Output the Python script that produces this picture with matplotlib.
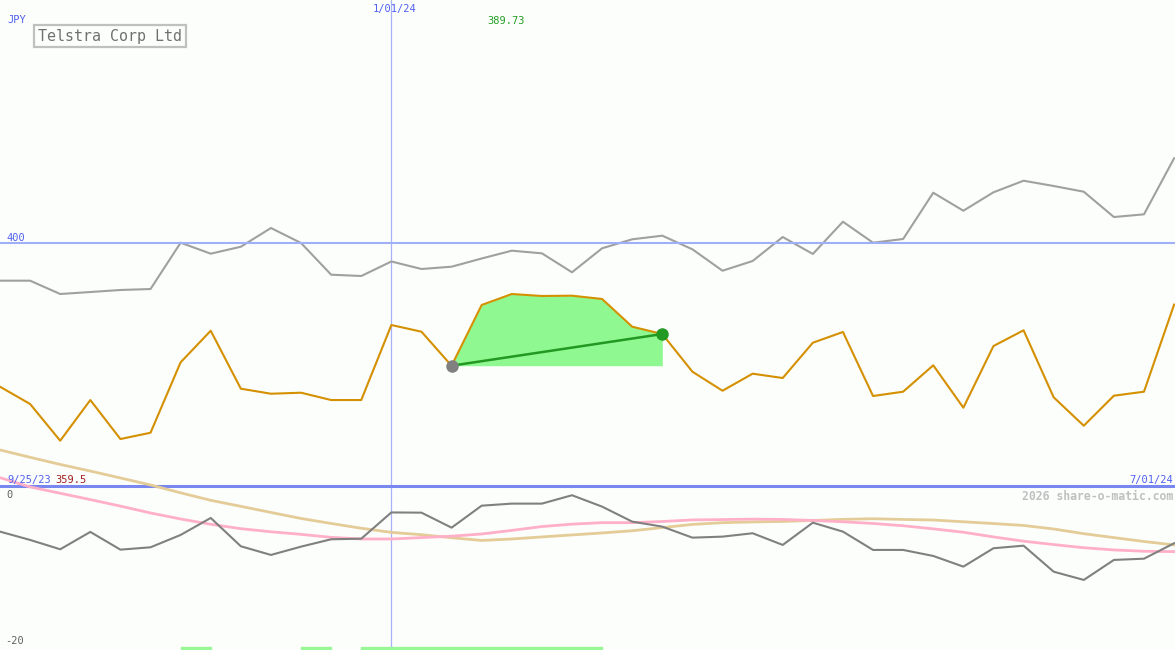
import numpy as np
import matplotlib
matplotlib.use("Agg")
import matplotlib.pyplot as plt

# weekly points, 9/25/23 .. 7/01/24
weeks = np.arange(40)
jan_week = 13  # 1/01/24

# price (JPY), orange line
price = [376.05, 373.17, 367.05, 373.83, 367.33, 368.38, 380.12, 385.38, 375.72, 374.88,
         375.05, 373.83, 373.83, 386.33, 385.22, 379.55, 389.67, 391.50, 391.17, 391.22,
         390.67, 386.05, 384.83, 378.55, 375.38, 378.22, 377.50, 383.38, 385.17, 374.50,
         375.22, 379.62, 372.55, 382.83, 385.45, 374.28, 369.55, 374.55, 375.22, 389.73]

# comparison line, gray
compare = [393.72, 393.72, 391.50, 391.83, 392.17, 392.33, 400.05, 398.22, 399.38, 402.50,
           400.00, 394.72, 394.50, 396.92, 395.67, 396.05, 397.42, 398.72, 398.28, 395.12,
           399.12, 400.62, 401.22, 398.95, 395.38, 397.00, 401.00, 398.17, 403.55, 400.05,
           400.67, 408.38, 405.38, 408.45, 410.38, 409.50, 408.55, 404.33, 404.78, 414.12]

# lower panel oscillator
osc = [-4.31, -5.44, -6.71, -4.35, -6.76, -6.44, -4.76, -2.45, -6.30, -7.48,
       -6.35, -5.35, -5.27, -1.70, -1.73, -3.77, -0.78, -0.50, -0.50, 0.64,
       -0.91, -2.95, -3.63, -5.13, -4.99, -4.53, -6.12, -3.09, -4.31, -6.80,
       -6.80, -7.62, -9.07, -6.57, -6.22, -9.76, -10.88, -8.16, -7.99, -5.89]

osc_fast = [3.03, 1.77, 0.91, 0.05, -0.84, -1.77, -2.59, -3.31, -3.91, -4.33,
            -4.68, -5.09, -5.31, -5.31, -5.12, -4.93, -4.63, -4.14, -3.62, -3.29,
            -3.09, -3.09, -2.93, -2.72, -2.67, -2.61, -2.65, -2.79, -2.97, -3.20,
            -3.51, -3.93, -4.39, -5.03, -5.61, -6.07, -6.50, -6.80, -6.98, -7.03]

osc_slow = [6.80, 5.80, 4.83, 3.93, 2.99, 2.04, 0.97, -0.05, -0.87, -1.70,
            -2.52, -3.20, -3.85, -4.41, -4.73, -5.14, -5.51, -5.31, -5.03, -4.76,
            -4.49, -4.19, -3.76, -3.33, -3.09, -2.99, -2.93, -2.79, -2.64, -2.56,
            -2.65, -2.73, -2.97, -3.21, -3.47, -3.95, -4.59, -5.12, -5.65, -6.12]

# highlighted rise (start, end week)
trade_start, trade_end = 15, 22

# green signal bars at the bottom: (start week, length)
signal_bars = [(6, 1), (10, 1), (12, 8)]

price_min = 359.5
W, H = 1175, 650
bg = '#fcfefc'
mono = 'DejaVu Sans Mono'


def px(x, y):
    return x / W, 1 - y / H


fig = plt.figure(figsize=(W / 100, H / 100), dpi=100, facecolor=bg)
ax = fig.add_axes([0, 0, 1, 1])
ax.set_facecolor(bg)
ax.set_xlim(0, 39.03)
ax.set_ylim(332.17, 440.5)
ax.axis('off')

ax.axhline(400, color='#a0b0f8', lw=1.5, zorder=3)
ax.axhline(price_min, color='#7888f0', lw=2.2, zorder=3)
ax.axvline(jan_week, color='#a8b0f8', lw=0.9, zorder=1)

seg = slice(trade_start, trade_end + 1)
ax.fill_between(weeks[seg], price[seg], price[trade_start], color='#90f890', lw=0, zorder=2)
ax.plot(weeks, compare, color='#a0a0a0', lw=1.5, zorder=2)
ax.plot(weeks, price, color='#d49000', lw=1.5, zorder=4)
ax.plot([trade_start, trade_end], [price[trade_start], price[trade_end]],
        color='#229922', lw=1.8, zorder=5)
ax.plot(trade_start, price[trade_start], 'o', color='#808080', ms=8, zorder=6)
ax.plot(trade_end, price[trade_end], 'o', color='#229922', ms=8, zorder=6)

ax2 = ax.twinx()
ax2.set_ylim(-20.41, 68.0)
ax2.axis('off')
ax2.plot(weeks, osc_slow, color='#e4cc98', lw=2, zorder=2)
ax2.plot(weeks, osc_fast, color='#ffb0c8', lw=2, zorder=2)
ax2.plot(weeks, osc, color='#808080', lw=1.5, zorder=3)
ax2.broken_barh(signal_bars, (-20.41, 0.41), color='#98f898', zorder=4)

# labels
fig.text(*px(7, 20), 'JPY', color='#5060f0', fontsize=7.5, family=mono, va='center')
fig.text(*px(38, 36), 'Telstra Corp Ltd', color='#707070', fontsize=10.8, family=mono,
         va='center',
         bbox=dict(boxstyle='square,pad=0.25', fc=bg, ec='#c0c0c0', lw=1.6))
fig.text(*px(395, 9), '1/01/24', color='#5060f0', fontsize=7.5, family=mono,
         ha='center', va='center')
fig.text(*px(506, 21), f'{price[-1]:.2f}', color='#22a022', fontsize=7.5, family=mono,
         ha='center', va='center')
fig.text(*px(6, 238), '400', color='#5060f0', fontsize=7.5, family=mono, va='center')
fig.text(*px(7, 480), '9/25/23', color='#5060f0', fontsize=7.5, family=mono, va='center')
fig.text(*px(55, 480), f'{price_min}', color='#a02020', fontsize=7.5, family=mono,
         va='center')
fig.text(*px(1173, 480), '7/01/24', color='#5060f0', fontsize=7.5, family=mono,
         ha='right', va='center')
fig.text(*px(1173, 496), '2026 share-o-matic.com', color='#c0c0c0', fontsize=8.3,
         family=mono, weight='bold', ha='right', va='center')
fig.text(*px(6, 495), '0', color='#606060', fontsize=7.5, family=mono, va='center')
fig.text(*px(5, 641), '-20', color='#606060', fontsize=7.5, family=mono, va='center')

fig.savefig('out.png', dpi=100, facecolor=bg)
